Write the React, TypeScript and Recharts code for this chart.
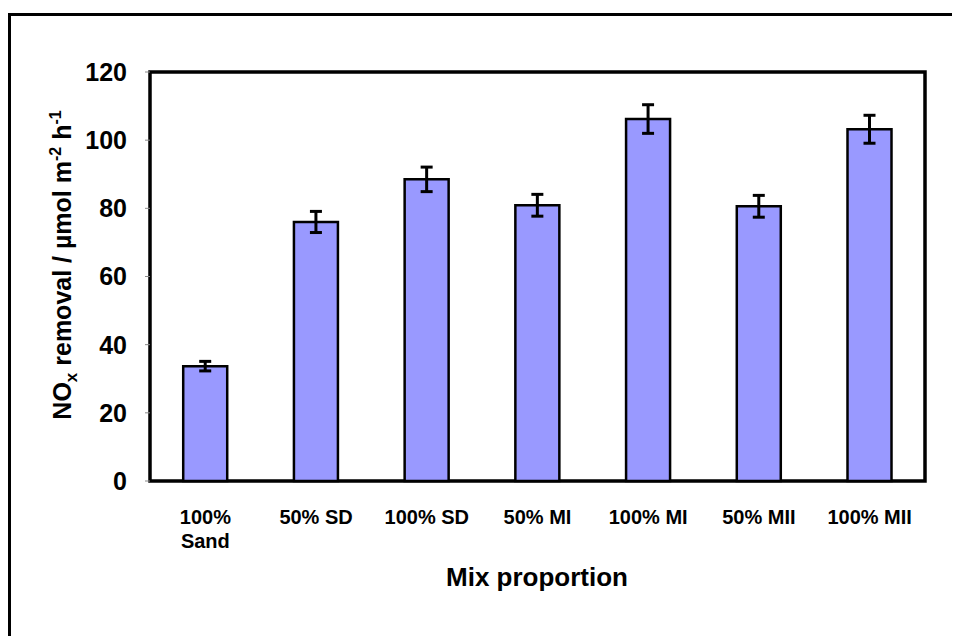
import { BarChart, Bar, XAxis, YAxis, ErrorBar, ReferenceArea } from "recharts";

const categories = ["100%\nSand", "50% SD", "100% SD", "50% MI", "100% MI", "50% MII", "100% MII"];
const removal = [33.7, 76.0, 88.5, 80.9, 106.2, 80.6, 103.2];
const removalErr = [1.4, 3.1, 3.6, 3.2, 4.2, 3.2, 4.1];
const yTicks = [0, 20, 40, 60, 80, 100, 120];

const data = categories.map((name, i) => ({
  name,
  value: removal[i],
  err: removalErr[i],
}));

const FONT = "'Liberation Sans', Arial, Helvetica, sans-serif";

function CategoryTick({ x, y, payload }: any) {
  const lines = String(payload.value).split("\n");
  return (
    <text
      x={x}
      y={y + 43}
      textAnchor="middle"
      fontFamily={FONT}
      fontWeight="bold"
      fontSize={20}
      fill="#000"
    >
      {lines.map((line, i) => (
        <tspan key={i} x={x} dy={i === 0 ? 0 : 24}>
          {line}
        </tspan>
      ))}
    </text>
  );
}

function YTitle() {
  return (
    <text
      transform="translate(63, 257) rotate(-90)"
      textAnchor="middle"
      fontFamily={FONT}
      fontWeight="bold"
      fontSize={25}
      fill="#000"
    >
      NO
      <tspan fontSize={17} dy={6}>x</tspan>
      <tspan dy={-6}> removal / µmol m</tspan>
      <tspan fontSize={16} dy={-10}>-2</tspan>
      <tspan dy={10}> h</tspan>
      <tspan fontSize={16} dy={-10}>-1</tspan>
    </text>
  );
}

function XTitle() {
  return (
    <text
      x={529}
      y={578}
      textAnchor="middle"
      fontFamily={FONT}
      fontWeight="bold"
      fontSize={26}
      fill="#000"
    >
      Mix proportion
    </text>
  );
}

export default function App() {
  return (
    <div style={{ position: "relative", width: 952, height: 628 }}>
      <div
        style={{
          position: "absolute",
          top: 5,
          left: 0,
          right: 0,
          bottom: 0,
          borderTop: "3px solid #000",
          borderLeft: "3px solid #000",
        }}
      />
      <BarChart
        width={952}
        height={628}
        data={data}
        margin={{ top: 64, right: 35, left: 52, bottom: 95 }}
        barCategoryGap="30%"
        style={{ position: "absolute", top: 0, left: 0 }}
      >
        <XAxis
          dataKey="name"
          height={60}
          axisLine={false}
          tickLine={false}
          tickSize={0}
          tickMargin={0}
          interval={0}
          tick={<CategoryTick />}
        />
        <YAxis
          domain={[0, 120]}
          ticks={yTicks}
          width={90}
          axisLine={false}
          tickLine={{ stroke: "#888", strokeWidth: 1 }}
          tickSize={5}
          tickMargin={18}
          tick={{ fontFamily: FONT, fontWeight: "bold", fontSize: 25, fill: "#000" }}
        />
        <Bar
          dataKey="value"
          fill="#9999FF"
          stroke="#000"
          strokeWidth={2.5}
          isAnimationActive={false}
        >
          <ErrorBar
            dataKey="err"
            width={6}
            stroke="#000"
            strokeWidth={3}
            isAnimationActive={false}
          />
        </Bar>
        <ReferenceArea
          y1={0}
          y2={120}
          fill="none"
          fillOpacity={0}
          stroke="#000"
          strokeWidth={3.5}
          strokeOpacity={1}
          ifOverflow="visible"
        />
        <YTitle />
        <XTitle />
      </BarChart>
    </div>
  );
}
